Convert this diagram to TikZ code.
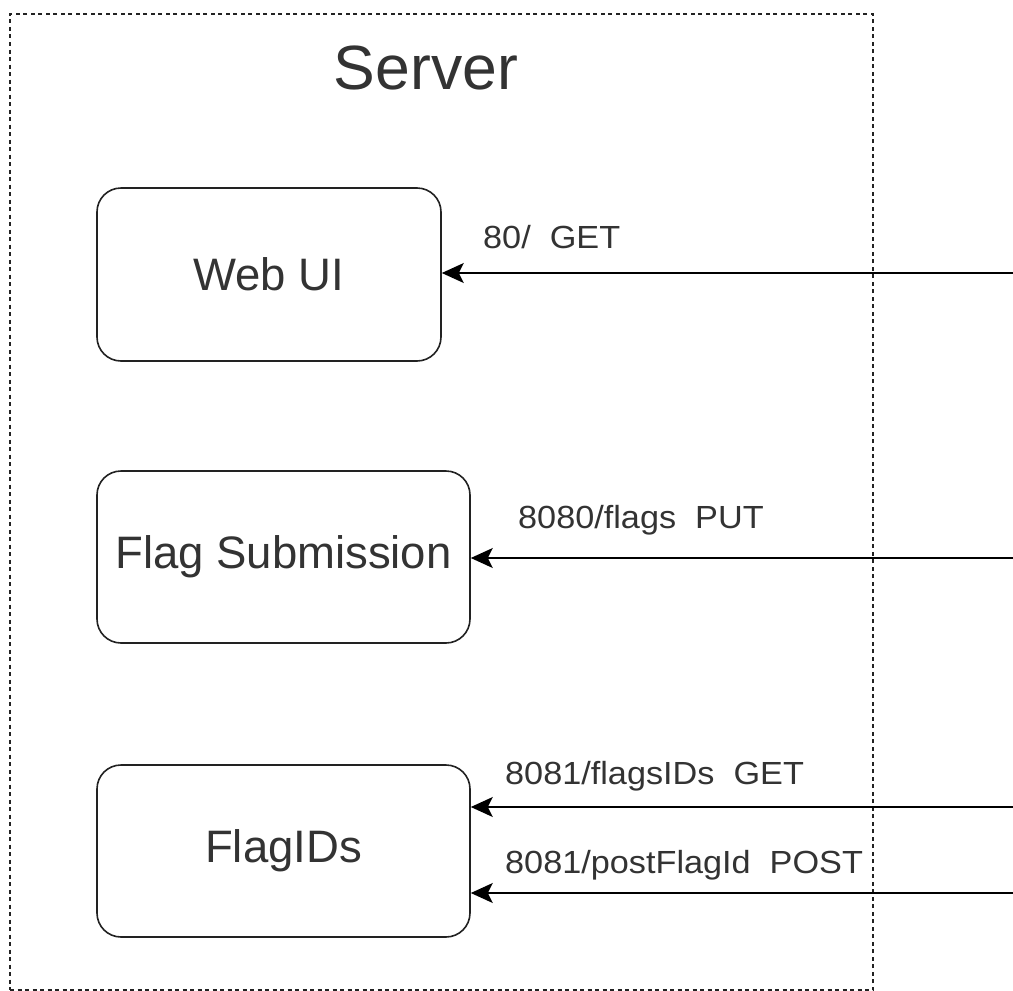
\documentclass[tikz,border=0pt]{standalone}
\usepackage{fontspec}
\setmainfont{Liberation Sans}
\newfontfamily\lblfont[FakeStretch=1.07]{Liberation Sans}
\usetikzlibrary{arrows.meta}
\definecolor{ink}{HTML}{222222}
\definecolor{txt}{HTML}{333333}
\begin{document}
\begin{tikzpicture}[x=1pt,y=-1pt,
  frame/.style={draw=ink,line width=1.6pt,dash pattern=on 4pt off 3.5pt},
  svc/.style={draw=ink,line width=1.6pt,rounded corners=24pt,inner sep=0pt,text=txt,font=\fontsize{45.5}{54}\selectfont},
  lbl/.style={anchor=west,inner sep=0pt,text=txt,font=\lblfont\fontsize{32}{38}\selectfont},
  arr/.style={draw=black,line width=1.6pt,-{Stealth[length=22pt,width=20pt,inset=5pt,fill=black]}},
]
\useasboundingbox (0,0) rectangle (1013,991);
\node[frame,minimum width=863pt,minimum height=976pt,inner sep=0pt] (server) at (441.5,502) {};
\node[text=txt,inner sep=0pt,font=\fontsize{62.5}{74}\selectfont] (title) at (426,68) {Server};
\node[svc,minimum width=344pt,minimum height=173pt] (webui) at (269,274.5) {Web UI};
\node[svc,minimum width=373pt,minimum height=172pt] (flagsub) at (283.5,557) {Flag Submission};
\node[svc,minimum width=373pt,minimum height=172pt] (flagids) at (283.5,851) {FlagIDs};
\coordinate (in1) at (1013,273);
\coordinate (in2) at (1013,558);
\coordinate (in3) at (1013,807);
\coordinate (in4) at (1013,893);
\draw[arr] (in1) -- (in1 -| webui.east);
\draw[arr] (in2) -- (in2 -| flagsub.east);
\draw[arr] (in3) -- (in3 -| flagids.east);
\draw[arr] (in4) -- (in4 -| flagids.east);
\node[lbl] (l1) at (483,237) {80/\ \ GET};
\node[lbl] (l2) at (518,520) {8080/flags\ \ PUT};
\node[lbl] (l3) at (505,776) {8081/flagsIDs\ \ GET};
\node[lbl] (l4) at (505,865) {8081/postFlagId\ \ POST};
\end{tikzpicture}
\end{document}
